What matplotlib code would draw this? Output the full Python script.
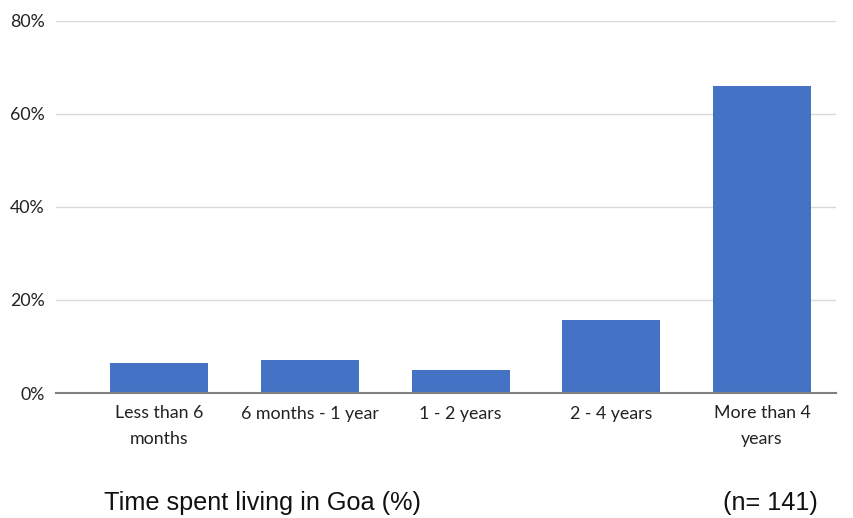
import matplotlib
matplotlib.use("Agg")
import matplotlib.pyplot as plt

categories = ["Less than 6\nmonths", "6 months - 1 year", "1 - 2 years", "2 - 4 years", "More than 4\nyears"]
values = [6.4, 7.1, 5.0, 15.6, 66.0]
yticks = [0, 20, 40, 60, 80]
ytick_labels = ["0%", "20%", "40%", "60%", "80%"]
title = "Time spent living in Goa (%)"
note = "(n= 141)"

fig = plt.figure(figsize=(8.54, 5.18), dpi=100)
ax = fig.add_axes([56/854, 1-393/518, (836-56)/854, (393-20.7)/518])
x = list(range(len(categories)))
ax.bar(x, values, width=0.65, color="#4472C4", zorder=3)
ax.set_xlim(-0.683, 4.49)
ax.set_ylim(0, 80)
ax.set_yticks(yticks)
ax.set_yticklabels(ytick_labels, family="Lato", fontsize=12.8, color="#222222")
ax.set_xticks(x)
ax.set_xticklabels(categories, family="Lato", fontsize=12.8, color="#222222", linespacing=1.75, va="top")
ax.tick_params(axis="both", length=0)
ax.tick_params(axis="x", pad=9)
ax.tick_params(axis="y", pad=8)
ax.grid(axis="y", color="#d9d9d9", linewidth=1, zorder=0)
for s in ["top", "right", "left"]:
    ax.spines[s].set_visible(False)
ax.spines["bottom"].set_color("#808080")
ax.spines["bottom"].set_linewidth(1.5)
ax.spines["bottom"].set_zorder(4)

fig.text(104/854, 1-503/518, title, family="Liberation Sans", fontsize=18.2, va="center", ha="left", color="#111111")
fig.text(723/854, 1-503/518, note, family="Liberation Sans", fontsize=18.2, va="center", ha="left", color="#111111")

fig.savefig("out.png", dpi=100, facecolor="white")
